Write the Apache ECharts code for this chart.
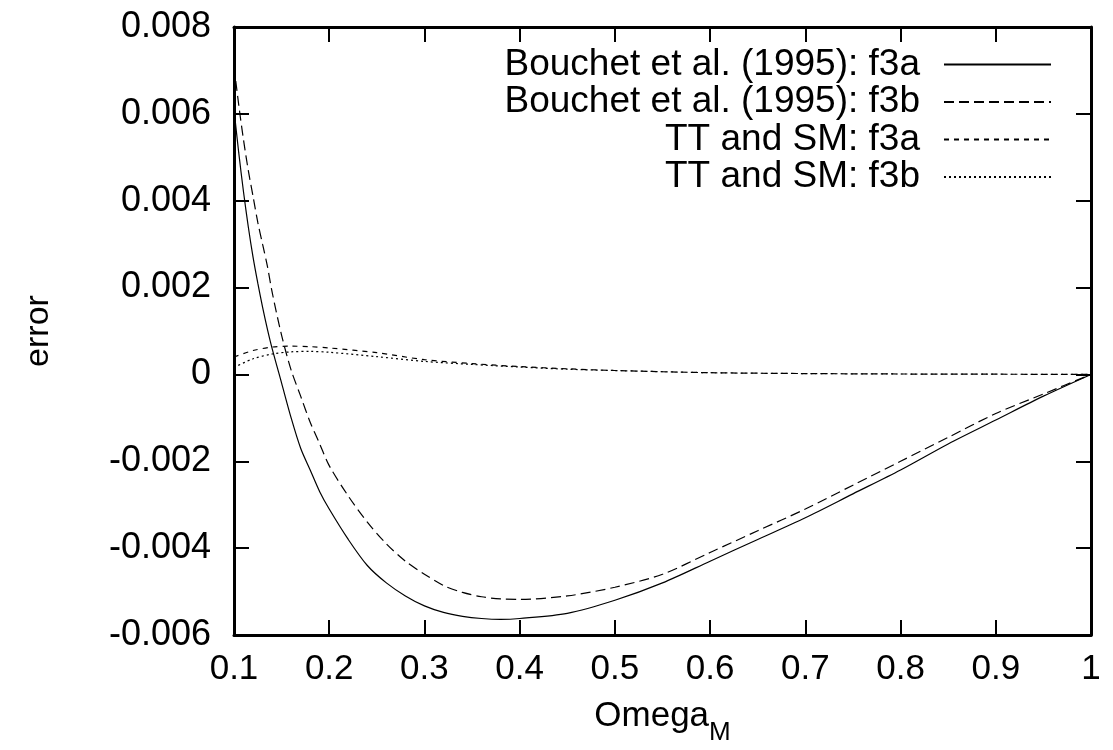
<!DOCTYPE html>
<html>
<head>
<meta charset="utf-8">
<script src="https://cdn.jsdelivr.net/npm/echarts@6/dist/echarts.min.js"></script>
<style>
html,body{margin:0;padding:0;background:#fff;}
#main{width:1113px;height:750px;}
</style>
</head>
<body>
<div id="main"></div>
<script>
// Omega_M grid for Bouchet curves
var omega = [0.1,0.105,0.11,0.115,0.12,0.125,0.13,0.135,0.14,0.15,0.16,0.17,0.18,0.19,0.2,0.22,0.24,0.26,0.28,0.3,0.32,0.34,0.36,0.38,0.4,0.45,0.5,0.55,0.6,0.65,0.7,0.75,0.8,0.85,0.9,0.95,1.0];
var bouchetF3a = [0.0061,0.0051,0.0042,0.0034,0.0027,0.0021,0.00155,0.00105,0.0006,-0.0002,-0.001,-0.0017,-0.0022,-0.0027,-0.0031,-0.0038,-0.0044,-0.0048,-0.0051,-0.00533,-0.00548,-0.00557,-0.00562,-0.00564,-0.00562,-0.0055,-0.0052,-0.0048,-0.0043,-0.0038,-0.0033,-0.00275,-0.0022,-0.0016,-0.00105,-0.0005,0];
var bouchetF3b = [0.0071,0.0062,0.0054,0.0047,0.0041,0.0035,0.0030,0.0025,0.0019,0.0009,0.0001,-0.0005,-0.0011,-0.0016,-0.0021,-0.0028,-0.0034,-0.0039,-0.0043,-0.0046,-0.00486,-0.00502,-0.00512,-0.00517,-0.00518,-0.0051,-0.0049,-0.0046,-0.0041,-0.0036,-0.0031,-0.00255,-0.0020,-0.00145,-0.0009,-0.00045,0];
// Omega_M grid for TT and SM curves
var ttOmega = [0.1,0.12,0.14,0.16,0.18,0.2,0.25,0.3,0.35,0.4,0.45,0.5,0.6,0.7,0.8,0.9,1.0];
var ttF3a = [0.0004,0.00055,0.00063,0.00065,0.00064,0.00061,0.0005,0.00034,0.00025,0.00018,0.00013,0.00009,0.00004,0.00002,0.00001,0.000005,0];
var ttF3b = [0.00016,0.00036,0.00047,0.00052,0.00053,0.00051,0.00041,0.0003,0.00023,0.00017,0.00012,0.00009,0.00004,0.00002,0.00001,0.000005,0];
var seriesNames = ['Bouchet et al. (1995): f3a','Bouchet et al. (1995): f3b','TT and SM: f3a','TT and SM: f3b'];
var xTicks = {min:0.1, max:1, interval:0.1};
var yTicks = {min:-0.006, max:0.008, interval:0.002};

function pairs(xs, ys){ return xs.map(function(x,i){return [x, ys[i]];}); }

var chart = echarts.init(document.getElementById('main'), null, {renderer:'canvas'});
var FONT = "'Liberation Sans', Arial, Helvetica, sans-serif";

function axisCommon(extra){
  var o = {
    type:'value',
    axisLine:{show:true, onZero:false, lineStyle:{color:'#000', width:3}},
    axisTick:{show:true, inside:true, length:15, lineStyle:{color:'#000', width:2}},
    splitLine:{show:false}
  };
  for (var k in extra) o[k] = extra[k];
  return o;
}

function line(name, xs, ys, dash, width){
  return {
    name:name, type:'line', data:pairs(xs, ys), symbol:'none', smooth:0.3,
    xAxisIndex:0, yAxisIndex:0,
    lineStyle:{color:'#000', width:width, type:dash},
    itemStyle:{color:'#000'},
    emphasis:{disabled:true}, animation:false
  };
}

chart.setOption({
  animation:false,
  backgroundColor:'#fff',
  grid:{left:234, right:22, top:27, bottom:115, containLabel:false, outerBoundsMode:'none'},
  legend:{
    orient:'vertical', align:'right', right:61, top:46, padding:0,
    itemWidth:107, itemHeight:30, itemGap:0.5,
    itemStyle:{opacity:0},
    textStyle:{fontFamily:FONT, fontSize:37, color:'#000', lineHeight:30, padding:[0,19,0,0]},
    data:seriesNames, selectedMode:false
  },
  xAxis:[
    axisCommon({min:xTicks.min, max:xTicks.max, interval:xTicks.interval, position:'bottom',
      axisLabel:{show:true, color:'#000', fontFamily:FONT, fontSize:35, margin:17,
        formatter:function(v){return String(+v.toFixed(1));}},
      name:'{a|Omega}{s|M}', nameLocation:'middle', nameGap:64,
      nameTextStyle:{rich:{
        a:{fontFamily:FONT, fontSize:35, lineHeight:35, verticalAlign:'top', color:'#000'},
        s:{fontFamily:FONT, fontSize:26, lineHeight:26, padding:[21,0,0,0], verticalAlign:'top', color:'#000'}
      }}
    }),
    axisCommon({min:xTicks.min, max:xTicks.max, interval:xTicks.interval, position:'top', axisLabel:{show:false}})
  ],
  yAxis:[
    axisCommon({min:yTicks.min, max:yTicks.max, interval:yTicks.interval, position:'left',
      axisLabel:{show:true, color:'#000', fontFamily:FONT, fontSize:36, margin:23, padding:[6,0,0,0],
        formatter:function(v){ var r = Math.round(v*1000)/1000; return r===0?'0':r.toFixed(3);}},
      name:'error', nameLocation:'middle', nameGap:178, nameRotate:90,
      nameTextStyle:{fontFamily:FONT, fontSize:34, color:'#000'}
    }),
    axisCommon({min:yTicks.min, max:yTicks.max, interval:yTicks.interval, position:'right', axisLabel:{show:false}})
  ],
  series:[
    line(seriesNames[0], omega, bouchetF3a, 'solid', 1.2),
    line(seriesNames[1], omega, bouchetF3b, [10,5], 1.2),
    line(seriesNames[2], ttOmega, ttF3a, [5,5], 1.2),
    line(seriesNames[3], ttOmega, ttF3b, [2,3], 1.2)
  ]
});
</script>
</body>
</html>
